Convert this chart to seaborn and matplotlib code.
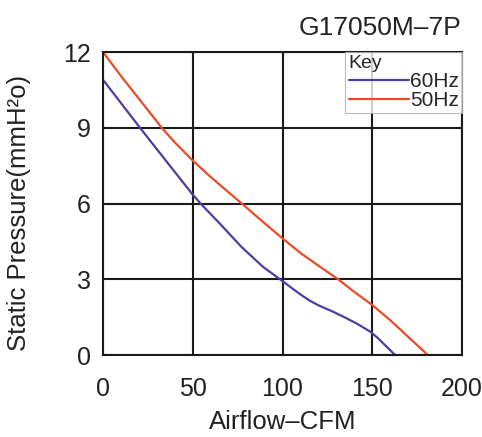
import matplotlib
matplotlib.use("Agg")
import matplotlib.pyplot as plt
import seaborn as sns
import pandas as pd

# fan curve
flow_60 = [0, 10, 20.6, 30, 40, 50, 55, 65, 77, 89, 98.6, 105, 110, 115, 120, 128, 135, 142, 149, 153, 157, 162.7]
press_60 = [10.9, 9.98, 9.0, 8.15, 7.25, 6.35, 5.95, 5.21, 4.29, 3.5, 3.0, 2.66, 2.4, 2.16, 1.97, 1.72, 1.48, 1.22, 0.92, 0.68, 0.4, 0.0]
flow_50 = [0, 10, 20, 32.7, 40, 50, 60, 70, 77.3, 90, 100, 110, 120, 131, 140, 150, 160, 170, 181]
press_50 = [12.0, 11.05, 10.15, 9.0, 8.42, 7.7, 7.05, 6.44, 6.0, 5.22, 4.62, 4.04, 3.54, 3.0, 2.5, 1.98, 1.38, 0.72, 0.0]
x_ticks = [0, 50, 100, 150, 200]
y_ticks = [0, 3, 6, 9, 12]

df = pd.concat([
    pd.DataFrame({"flow": flow_60, "pressure": press_60, "Key": "60Hz"}),
    pd.DataFrame({"flow": flow_50, "pressure": press_50, "Key": "50Hz"}),
])

sns.set_style("white")
plt.rcParams["font.family"] = ["Liberation Sans", "DejaVu Sans"]

fig = plt.figure(figsize=(4.82, 4.37), dpi=100)
ax = fig.add_axes([0.2137, 0.1876, 0.7448, 0.6934])

sns.lineplot(data=df, x="flow", y="pressure", hue="Key", sort=False,
             palette={"60Hz": "#4b3fa3", "50Hz": "#ec4a26"}, linewidth=1.6,
             estimator=None, ax=ax)

ax.set_xlim(0, 200)
ax.set_ylim(0, 12)
ax.set_xticks(x_ticks)
ax.set_yticks(y_ticks)
ax.grid(True, color="#1a1a1a", linewidth=1.5)
ax.set_axisbelow(True)
for s in ax.spines.values():
    s.set_color("#1a1a1a")
    s.set_linewidth(1.5)
ax.tick_params(length=0, labelsize=18, labelcolor="#222222")
ax.tick_params(axis="x", pad=16)
ax.tick_params(axis="y", pad=9)
ax.set_xlabel("Airflow\u2013CFM", fontsize=18.5, color="#222222")
ax.set_ylabel("Static Pressure(mmH\u00b2o)", fontsize=18.5, color="#222222")
ax.xaxis.set_label_coords(0.5, -0.18)
ax.yaxis.set_label_coords(-0.2, 0.47)
fig.text(0.958, 0.937, "G17050M\u20137P", ha="right", va="center", fontsize=19, color="#222222")

leg = ax.legend(title="Key", loc="upper right", fontsize=15, title_fontsize=14,
                handlelength=2.9, handletextpad=0.05, borderaxespad=0.0,
                borderpad=0.15, labelspacing=0.0, frameon=True, fancybox=False,
                alignment="left")
leg.get_frame().set_edgecolor("#aaaaaa")
leg.get_frame().set_linewidth(0.8)

fig.savefig("out.png", dpi=100)
